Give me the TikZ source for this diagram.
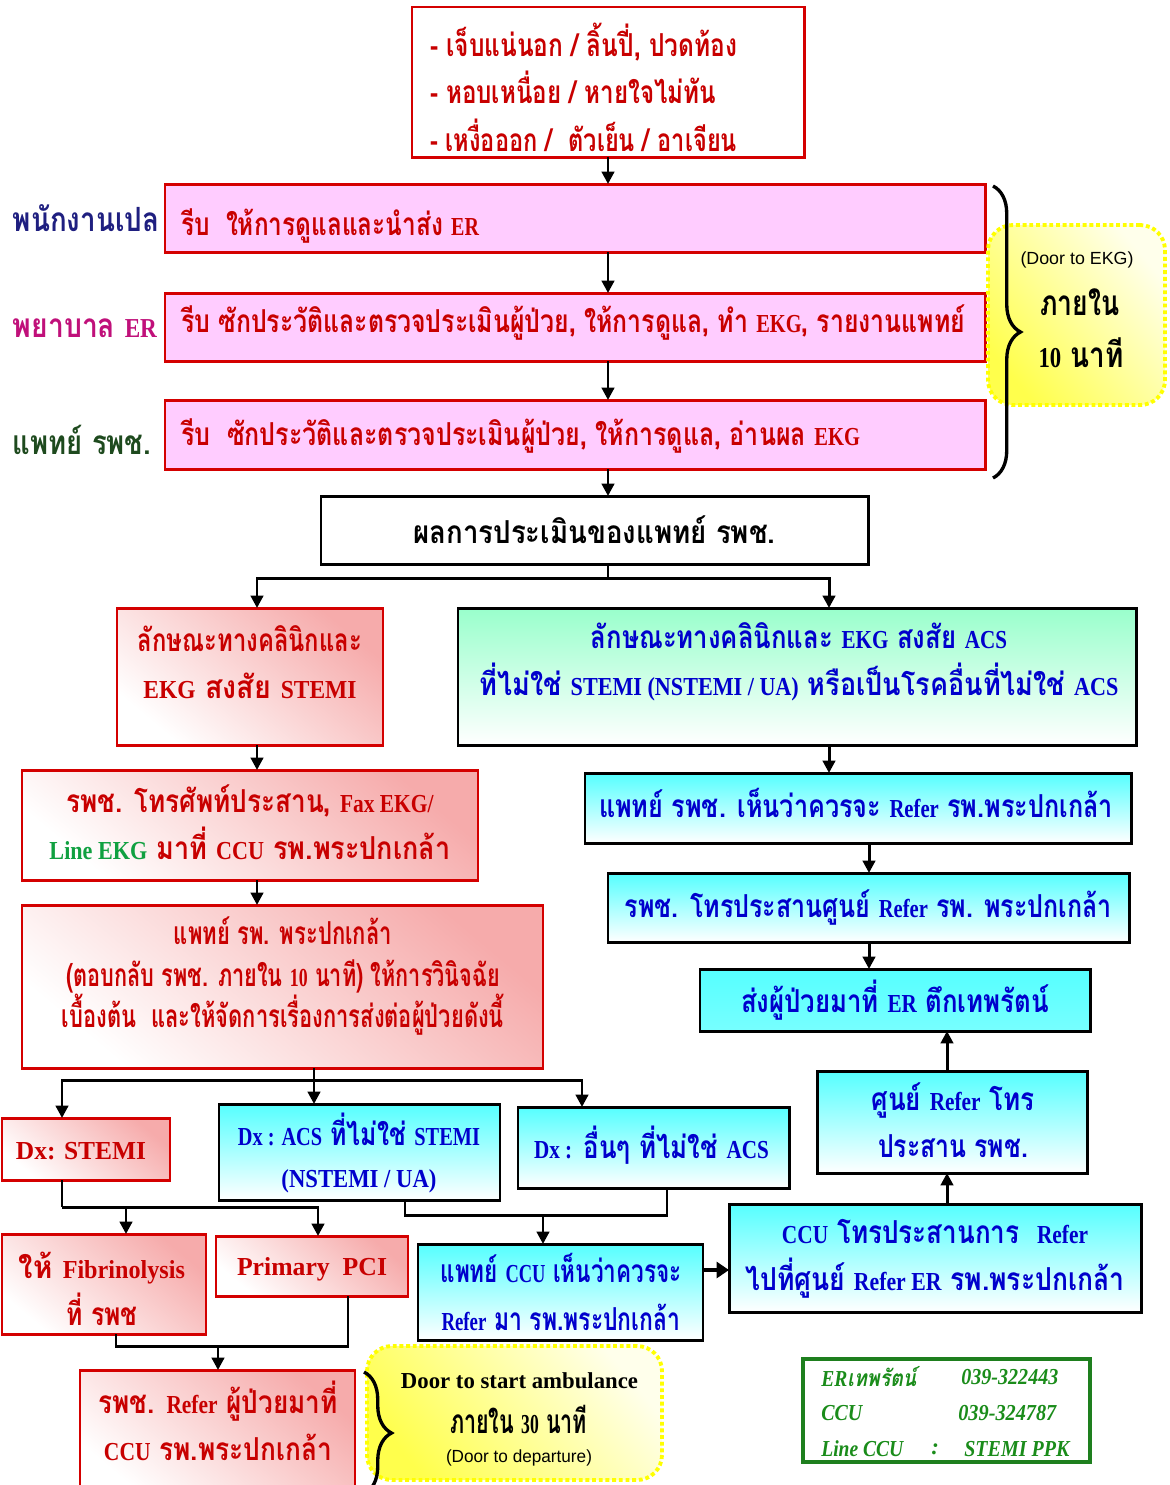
\documentclass[tikz,border=0pt]{standalone}
\usepackage{graphicx}
\usepackage{fontspec}
\setmainfont{Liberation Serif}
\newfontfamily\thaif{Loma}[Script=Thai]
\newfontfamily\latf{Liberation Serif}[Scale=0.82]
\newfontfamily\latn{Liberation Serif}
\newfontfamily\sansf{Liberation Sans}
\newcommand\EN[1]{{\latf #1}}
\newlength\px
\setlength\px{0.02cm}
\newcommand\fw[2]{\resizebox{#1\px}{\height}{#2}}
\usetikzlibrary{arrows.meta,decorations.pathreplacing}
\definecolor{bred}{HTML}{D40000}
\definecolor{tred}{HTML}{C80000}
\definecolor{tblue}{HTML}{0000CC}
\definecolor{pinkf}{HTML}{FFCCFF}
\definecolor{pinkg}{HTML}{F6ABAB}
\definecolor{cyang}{HTML}{55FFFF}
\definecolor{mintg}{HTML}{99FFCC}
\definecolor{tgreen}{HTML}{10A040}
\definecolor{gbox}{HTML}{1E7F1E}
\definecolor{gtext}{HTML}{1A8C1A}
\definecolor{navy}{HTML}{1F1F80}
\definecolor{mag}{HTML}{C0107A}
\definecolor{dgreen}{HTML}{1E4A1E}
\definecolor{ylw}{HTML}{FFFF00}
\tikzset{
  base/.style={inner sep=0pt, outer sep=0pt, align=center, font=\thaif\bfseries\fontsize{18}{27}\selectfont},
  sz/.style 2 args={minimum width=#1*0.02cm, minimum height=#2*0.02cm},
  txt/.style={inner sep=0pt, outer sep=0pt, align=center, font=\thaif\bfseries\fontsize{18}{27}\selectfont},
  tight/.style={font=\thaif\bfseries\fontsize{18}{23.5}\selectfont},
  pinkbar/.style={base, draw=bred, fill=pinkf, line width=1.7pt},
  whitered/.style={base, draw=bred, fill=white, line width=1.7pt},
  redgrad/.style={base, draw=bred, line width=1.7pt, text=tred, top color=pinkg, bottom color=white, shading angle=-40},
  cyangrad/.style={base, draw=black, line width=1.7pt, text=tblue, top color=cyang, bottom color=white},
  mintgrad/.style={base, draw=black, line width=1.7pt, text=tblue, top color=mintg, bottom color=white},
  cyansolid/.style={base, draw=black, line width=1.7pt, text=tblue, top color=cyang, bottom color=cyang!80!white},
  plainbox/.style={base, draw=black, fill=white, line width=1.7pt, text=black},
  ybox/.style={inner sep=0pt, draw=ylw, line width=2.2pt, dash pattern=on 2.2pt off 1.6pt, rounded corners=0.5cm, left color=yellow!70, right color=yellow!8, shading angle=130},
  gbx/.style={inner sep=0pt, draw=gbox, line width=2.4pt, fill=white},
  gtx/.style={inner sep=0pt, anchor=west, text=gtext, font=\latn\bfseries\itshape\fontsize{13}{15}\selectfont},
  sidelab/.style={inner sep=0pt, font=\thaif\bfseries\fontsize{19}{24}\selectfont},
  conn/.style={draw=black, line width=1.7pt},
  arr/.style={conn, -{Triangle[length=7pt,width=7pt]}},
  arrbig/.style={draw=black, line width=2.6pt, -{Triangle[length=7pt,width=9pt]}},
  brc/.style={draw=black, line width=1.9pt, decorate, decoration={brace, amplitude=0.55cm, aspect=0.5}},
}
\begin{document}
\begin{tikzpicture}[x=0.02cm,y=-0.02cm]
\useasboundingbox (0,0) rectangle (1170,1485);
\fill[white] (0,0) rectangle (1170,1485);

% top
\node[whitered, sz={392}{150}] (sym) at (608,82) {};
\node[txt, text=tred, anchor=west, align=left] (symt) at (430,87)
  {\fw{307}{- เจ็บแน่นอก / ลิ้นปี่, ปวดท้อง}\\\fw{286}{- หอบเหนื่อย / หายใจไม่ทัน}\\\fw{307}{- เหงื่อออก /\ \ ตัวเย็น / อาเจียน}};

\node[pinkbar, sz={820}{68}] (pA) at (575,218) {};
\node[txt, text=tred, anchor=west] (pAt) at (181,226) {\fw{298}{รีบ\ \ ให้การดูแลและนำส่ง \EN{ER}}};
\node[pinkbar, sz={820}{68}] (pB) at (575,327) {};
\node[txt, text=tred, anchor=west] (pBt) at (181,323) {\fw{784}{รีบ ซักประวัติและตรวจประเมินผู้ป่วย, ให้การดูแล, ทำ \EN{EKG}, รายงานแพทย์}};
\node[pinkbar, sz={820}{69}] (pC) at (575,434.5) {};
\node[txt, text=tred, anchor=west] (pCt) at (181,436) {\fw{679}{รีบ\ \ ซักประวัติและตรวจประเมินผู้ป่วย, ให้การดูแล, อ่านผล \EN{EKG}}};

\node[sidelab, text=navy] (lab1) at (86,218) {\fw{146}{พนักงานเปล}};
\node[sidelab, text=mag] (lab2) at (85,328) {\fw{144}{พยาบาล \EN{ER}}};
\node[sidelab, text=dgreen] (lab3) at (82,440) {\fw{138}{แพทย์ รพช.}};

\node[ybox, sz={177}{180}] (y1) at (1076.5,315) {};
\node[inner sep=0pt, font=\sansf\fontsize{10}{12}\selectfont] (y1a) at (1077,260) {\fw{113}{(Door to EKG)}};
\node[txt, font=\thaif\bfseries\fontsize{20}{24}\selectfont] (y1b) at (1080,302) {\fw{79}{ภายใน}};
\node[txt, font=\thaif\bfseries\fontsize{20}{24}\selectfont] (y1c) at (1081,353) {\fw{85}{\EN{10} นาที}};
\draw[brc] (993,186) -- (993,478);

\node[plainbox, sz={547}{68}] (eval) at (594.5,530) {\fw{362}{ผลการประเมินของแพทย์ รพช.}};

% left branch
\node[redgrad, sz={266}{137}] (stemi) at (250,676.5) {};
\node[txt, text=tred] (stemit) at (250,662) {\fw{224}{ลักษณะทางคลินิกและ}\\\fw{213}{\EN{EKG} สงสัย \EN{STEMI}}};
\node[mintgrad, sz={678}{137}] (acs) at (797,676.5) {};
\node[txt, text=tblue] (acst) at (799,662) {\fw{416}{ลักษณะทางคลินิกและ \EN{EKG} สงสัย \EN{ACS}}\\\fw{639}{ที่ไม่ใช่ \EN{STEMI (NSTEMI / UA)} หรือเป็นโรคอื่นที่ไม่ใช่ \EN{ACS}}};

\node[redgrad, sz={456}{110}] (fax) at (250,825) {};
\node[txt, text=tred] (faxt) at (250,822)
  {\fw{367}{รพช. โทรศัพท์ประสาน, \EN{Fax EKG/}}\\\fw{401}{\textcolor{tgreen}{\EN{Line EKG}} มาที่ \EN{CCU} รพ.พระปกเกล้า}};
\node[redgrad, sz={521}{163}] (dr) at (282.5,986.5) {};
\node[txt, tight, text=tred] (drt) at (283,976)
  {\fw{218}{แพทย์ รพ. พระปกเกล้า}\\\fw{434}{(ตอบกลับ รพช. ภายใน \EN{10} นาที) ให้การวินิจฉัย}\\\fw{442}{เบื้องต้น\ \ และให้จัดการเรื่องการส่งต่อผู้ป่วยดังนี้}};

% right column
\node[cyangrad, sz={546}{70}] (r1) at (858,808) {};
\node[txt, text=tblue] (r1t) at (856,803) {\fw{514}{แพทย์ รพช. เห็นว่าควรจะ \EN{Refer} รพ.พระปกเกล้า}};
\node[cyangrad, sz={521}{69}] (r2) at (868.5,907.5) {\fw{487}{รพช. โทรประสานศูนย์ \EN{Refer} รพ. พระปกเกล้า}};
\node[cyansolid, sz={390}{62}] (r3) at (895,1000) {\fw{308}{ส่งผู้ป่วยมาที่ \EN{ER} ตึกเทพรัตน์}};
\node[cyangrad, sz={270}{102}] (r4) at (952,1122) {};
\node[txt, text=tblue] (r4t) at (953,1120) {\fw{163}{ศูนย์ \EN{Refer} โทร}\\\fw{150}{ประสาน รพช.}};
\node[cyangrad, sz={412}{108}] (r5) at (935,1258) {};
\node[txt, text=tblue] (r5t) at (935,1259) {\fw{306}{\EN{CCU} โทรประสานการ\ \ \EN{Refer}}\\\fw{379}{ไปที่ศูนย์ \EN{Refer ER} รพ.พระปกเกล้า}};

% diagnosis row
\node[redgrad, sz={168}{62}] (dxs) at (86,1149) {};
\node[txt, text=tred] (dxst) at (81,1151) {\fw{130}{\EN{Dx: STEMI}}};
\node[cyangrad, sz={281}{96}] (dxa) at (359.5,1152) {};
\node[txt, tight, text=tblue] (dxat) at (359,1153) {\fw{242}{\EN{Dx : ACS} ที่ไม่ใช่ \EN{STEMI}}\\\fw{155}{\EN{(NSTEMI / UA)}}};
\node[cyangrad, sz={271}{81}] (dxo) at (653.5,1147.5) {};
\node[txt, text=tblue] (dxot) at (651.5,1145) {\fw{235}{\EN{Dx :} อื่นๆ ที่ไม่ใช่ \EN{ACS}}};

\node[redgrad, sz={204}{100}] (fib) at (104,1284) {};
\node[txt, text=tred] (fibt) at (102,1289) {\fw{166}{ให้ \EN{Fibrinolysis}}\\\fw{71}{ที่ รพช}};
\node[redgrad, sz={192}{60}] (pci) at (312,1266) {};
\node[txt, text=tred] (pcit) at (312,1269) {\fw{150}{\EN{Primary\ \ PCI}}};
\node[cyangrad, sz={285}{96}] (ccu) at (560.5,1292) {};
\node[txt, text=tblue] (ccut) at (561,1292) {\fw{241}{แพทย์ \EN{CCU} เห็นว่าควรจะ}\\\fw{239}{\EN{Refer} มา รพ.พระปกเกล้า}};

\node[redgrad, sz={275}{125}] (refer) at (217.5,1432.5) {};
\node[txt, text=tred] (refert) at (218,1421) {\fw{239}{รพช. \EN{Refer} ผู้ป่วยมาที่}\\\fw{228}{\EN{CCU} รพ.พระปกเกล้า}};

\node[ybox, sz={295}{134}] (y2) at (514.5,1413) {};
\node[inner sep=0pt, font=\latn\bfseries\fontsize{13}{15}\selectfont] (y2a) at (519.5,1381) {\fw{237}{Door to start ambulance}};
\node[txt, font=\thaif\bfseries\fontsize{19}{24}\selectfont] (y2b) at (518.5,1419) {\fw{137}{ภายใน \EN{30} นาที}};
\node[inner sep=0pt, font=\sansf\fontsize{10}{12}\selectfont] (y2c) at (519,1458) {\fw{146}{(Door to departure)}};
\draw[brc] (364,1372) -- (364,1494);

% contact box
\node[gbx, sz={287}{103}] (gb) at (946.5,1410.5) {};
\node[gtx] (g1) at (821,1377) {\fw{95}{ER{\thaif เทพรัตน์}}};
\node[gtx] (g2) at (961,1377) {\fw{97}{039-322443}};
\node[gtx] (g3) at (821,1413) {\fw{41}{CCU}};
\node[gtx] (g4) at (958,1413) {\fw{98}{039-324787}};
\node[gtx] (g5) at (821,1449) {\fw{82}{Line CCU}};
\node[gtx] (g6) at (931,1449) {:};
\node[gtx] (g7) at (964,1449) {\fw{105}{STEMI PPK}};

% helper coordinates
\coordinate (xs) at (608,0);
\coordinate (sp1) at (608,578);
\coordinate (xL) at (257,0);
\coordinate (xR) at (829,0);
\coordinate (xr2) at (869,0);
\coordinate (xr4) at (947,0);
\coordinate (sp2) at (314,1080);
\coordinate (x62) at (62,0);
\coordinate (x582) at (582,0);
\coordinate (sp3) at (62,1207);
\coordinate (x126) at (126,0);
\coordinate (x318) at (318,0);
\coordinate (sp4) at (543,1215);
\coordinate (x405) at (405,0);
\coordinate (x667) at (667,0);
\coordinate (sp5) at (218,1346);
\coordinate (x116) at (116,0);
\coordinate (x348) at (348,0);
\coordinate (yh) at (0,1270);

% connectors
\draw[arr] (sym.south -| xs) -- (pA.north -| xs);
\draw[arr] (pA.south -| xs) -- (pB.north -| xs);
\draw[arr] (pB.south -| xs) -- (pC.north -| xs);
\draw[arr] (pC.south -| xs) -- (eval.north -| xs);
\draw[conn] (eval.south -| xs) -- (sp1);
\draw[arr] (sp1) -| (stemi.north -| xL);
\draw[arr] (sp1) -| (acs.north -| xR);
\draw[arr] (stemi.south -| xL) -- (fax.north -| xL);
\draw[arr] (fax.south -| xL) -- (dr.north -| xL);
\draw[arr] (acs.south -| xR) -- (r1.north -| xR);
\draw[arr] (r1.south -| xr2) -- (r2.north -| xr2);
\draw[arr] (r2.south -| xr2) -- (r3.north -| xr2);
\draw[arr] (r4.north -| xr4) -- (r3.south -| xr4);
\draw[arr] (r5.north -| xr4) -- (r4.south -| xr4);
\draw[conn] (dr.south -| sp2) -- (sp2);
\draw[arr] (sp2) -| (dxs.north -| x62);
\draw[arr] (sp2) -| (dxo.north -| x582);
\draw[arr] (sp2) -- (dxa.north -| sp2);
\draw[conn] (dxs.south -| sp3) -- (sp3);
\draw[arr] (sp3) -| (pci.north -| x318);
\draw[arr] (x126 |- sp3) -- (fib.north -| x126);
\draw[conn] (dxa.south -| x405) |- (sp4);
\draw[conn] (dxo.south -| x667) |- (sp4);
\draw[arr] (sp4) -- (ccu.north -| sp4);
\draw[conn] (fib.south -| x116) |- (sp5);
\draw[conn] (pci.south -| x348) |- (sp5);
\draw[arr] (sp5) -- (refer.north -| sp5);
\draw[arrbig] (ccu.east |- yh) -- (r5.west |- yh);
\end{tikzpicture}
\end{document}
